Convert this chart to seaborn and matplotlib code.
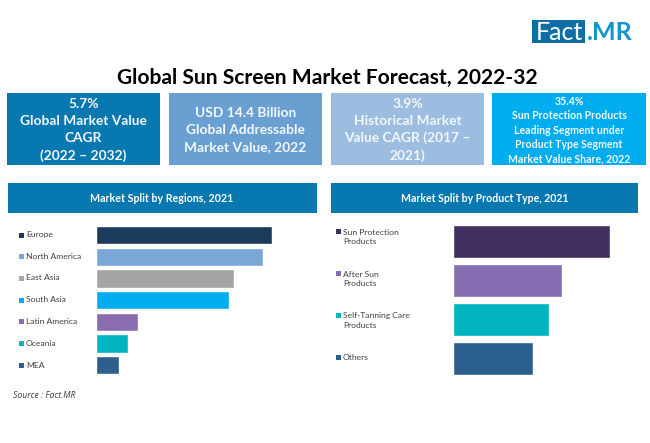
import matplotlib
matplotlib.use("Agg")
import matplotlib.pyplot as plt
from matplotlib.patches import Rectangle
import pandas as pd
import seaborn as sns

# values (share in %)
regions = ["Europe", "North America", "East Asia", "South Asia", "Latin America", "Oceania", "MEA"]
region_share = [25.0, 23.8, 19.6, 18.9, 6.0, 4.5, 3.3]
region_colors = ["#1B3A5C", "#7BA7D7", "#A5A5A5", "#00AEEF", "#8A6DB1", "#00B5C0", "#2E5F8E"]

products = ["Sun Protection\nProducts", "After Sun\nProducts", "Self-Tanning Care\nProducts", "Others"]
product_share = [35.4, 24.7, 21.6, 18.0]
product_colors = ["#41305F", "#866CB0", "#00B5BE", "#2B5F8E"]

boxes = ["5.7%\nGlobal Market Value\nCAGR\n(2022 – 2032)",
         "USD 14.4 Billion\nGlobal Addressable\nMarket Value, 2022",
         "3.9%\nHistorical Market\nValue CAGR (2017 –\n2021)",
         "35.4%\nSun Protection Products\nLeading Segment under\nProduct Type Segment\nMarket Value Share, 2022"]
box_colors = ["#0878B0", "#6A9FD2", "#9DBDE0", "#00AEEF"]

W, H = 650, 443

sns.set_theme(style="white")
plt.rcParams["font.family"] = ["Lato", "DejaVu Sans"]

fig = plt.figure(figsize=(W / 100, H / 100), dpi=100)


def fx(x):
    return x / W


def fy(y):
    return 1 - y / H


def add_rect(x0, y0, x1, y1, color):
    fig.add_artist(Rectangle((fx(x0), fy(y1)), (x1 - x0) / W, (y1 - y0) / H,
                             transform=fig.transFigure, color=color, lw=0))


def add_bars(names, values, colors, box, xmax):
    # box is left, top, right, bottom in image pixels
    ax = fig.add_axes([fx(box[0]), fy(box[3]), (box[2] - box[0]) / W, (box[3] - box[1]) / H])
    df = pd.DataFrame({"name": names, "share": values})
    sns.barplot(data=df, x="share", y="name", hue="name", palette=colors, legend=False,
                width=0.84, saturation=1, ax=ax)
    ax.set_xlim(0, xmax)
    ax.set_ylim(len(names) - 0.5, -0.5)
    ax.set_axis_off()


def add_labels(names, colors, ys, x_square, x_text):
    for name, color, y in zip(names, colors, ys):
        n_lines = name.count("\n") + 1
        first_y = y - (n_lines - 1) * 5.5
        add_rect(x_square, first_y - 2.5, x_square + 5, first_y + 2.5, color)
        fig.text(fx(x_text), fy(y), name, ha="left", va="center", fontsize=6.1,
                 color="#404040", linespacing=1.38)


# logo
add_rect(532, 20, 585, 43, "#0E6FA4")
fig.text(fx(536), fy(32), "Fact", ha="left", va="center", fontsize=18, color="white")
fig.text(fx(587), fy(32), ".MR", ha="left", va="center", fontsize=18, color="#1394CF", fontweight="bold")

fig.text(fx(327), fy(78), "Global Sun Screen Market Forecast, 2022-32", ha="center", va="center",
         fontsize=15.1, fontweight="bold", color="black")

# kpi boxes
box_edges = [(7, 160), (169, 322), (331, 484), (492, 646)]
box_sizes = [9.9, 9.9, 9.9, 7.6]
box_spacing = [1.48, 1.48, 1.48, 1.36]
for label, color, (x0, x1), size, sp in zip(boxes, box_colors, box_edges, box_sizes, box_spacing):
    add_rect(x0, 93, x1, 165, color)
    fig.text(fx((x0 + x1) / 2), fy(130), label, ha="center", va="center", fontsize=size,
             fontweight="bold", color="#F2F7FB", linespacing=sp)

# panel headers
add_rect(8, 183, 317, 213, "#0878B0")
fig.text(fx(162), fy(198), "Market Split by Regions, 2021", ha="center", va="center",
         fontsize=7.7, fontweight="bold", color="white")
add_rect(331, 183, 638, 213, "#0878B0")
fig.text(fx(484.5), fy(198), "Market Split by Product Type, 2021", ha="center", va="center",
         fontsize=7.6, fontweight="bold", color="white")

add_bars(regions, region_share, region_colors, (96, 224.2, 278.6, 376), 26)
add_labels(regions, region_colors, [235, 256.5, 278, 300, 321.5, 343, 365], 19, 26)

add_bars(products, product_share, product_colors, (453, 222, 630, 378), 40)
add_labels(products, product_colors, [237, 279, 320.5, 357.7], 336, 343)

fig.text(fx(13), fy(396), "Source : Fact.MR", ha="left", va="center", fontsize=6.2,
         family="Open Sans", style="italic", color="#404040")

fig.savefig("out.png", dpi=100)
